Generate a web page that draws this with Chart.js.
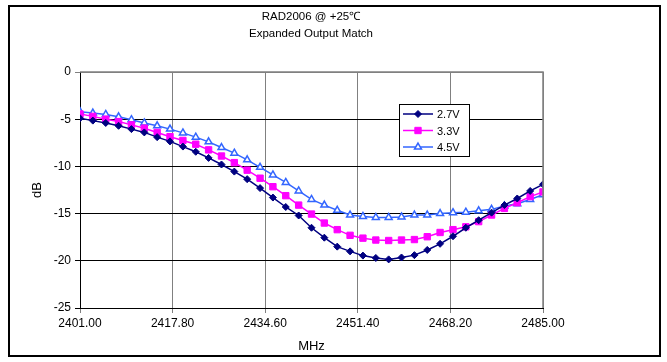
<!DOCTYPE html>
<html>
<head>
<meta charset="utf-8">
<script src="https://cdn.jsdelivr.net/npm/chart.js@4/dist/chart.umd.min.js"></script>
<style>
	html, body { margin: 0; padding: 0; background: #fff; }
	#wrap { width: 667px; height: 362px; }
</style>
</head>
<body>
<div id="wrap"><canvas id="match"></canvas></div>
<script>
// Data

let freqs = [
	2401.00, 2403.33, 2405.67, 2408.00, 2410.33, 2412.67, 2415.00, 2417.33, 2419.67, 2422.00,
	2424.33, 2426.67, 2429.00, 2431.33, 2433.67, 2436.00, 2438.33, 2440.67, 2443.00, 2445.33,
	2447.67, 2450.00, 2452.33, 2454.67, 2457.00, 2459.33, 2461.67, 2464.00, 2466.33, 2468.67,
	2471.00, 2473.33, 2475.67, 2478.00, 2480.33, 2482.67, 2485.00
];

let label27 = "2.7V";
let data27 = [
	-4.9, -5.15, -5.4, -5.7, -6.05, -6.4, -6.9, -7.35, -7.9, -8.45,
	-9.1, -9.8, -10.55, -11.35, -12.3, -13.3, -14.3, -15.2, -16.5, -17.55,
	-18.5, -19.0, -19.45, -19.7, -19.85, -19.65, -19.4, -18.85, -18.2, -17.4,
	-16.5, -15.7, -14.9, -14.1, -13.4, -12.6, -11.9
];

let label33 = "3.3V";
let data33 = [
	-4.45, -4.7, -5.0, -5.25, -5.6, -5.95, -6.4, -6.85, -7.25, -7.65,
	-8.25, -8.9, -9.6, -10.4, -11.25, -12.15, -13.1, -14.1, -15.05, -16.0,
	-16.7, -17.3, -17.6, -17.8, -17.85, -17.8, -17.75, -17.45, -17.0, -16.7,
	-16.4, -15.85, -15.15, -14.45, -13.85, -13.2, -12.7
];

let label45 = "4.5V";
let data45 = [
	-4.2, -4.35, -4.5, -4.75, -5.05, -5.4, -5.7, -6.05, -6.45, -6.9,
	-7.4, -8.0, -8.6, -9.3, -10.1, -10.9, -11.7, -12.6, -13.5, -14.1,
	-14.65, -15.15, -15.3, -15.4, -15.4, -15.35, -15.15, -15.15, -15.0, -14.9,
	-14.85, -14.7, -14.55, -14.2, -13.95, -13.5, -13.0
];

let xTicks = [2401.00, 2417.80, 2434.60, 2451.40, 2468.20, 2485.00];
let yTicks = [0, -5, -10, -15, -20, -25];

let titleLines = ["RAD2006 @ +25\u2103", "Expanded Output Match"];

const font = "'Liberation Sans', Arial, sans-serif";

function toPoints(values) {
	return values.map((v, i) => ({ x: freqs[i], y: v }));
}

// border, title and legend box drawn by hand (Excel style)
const excelDecor = {
	id: "excelDecor",
	beforeDraw(chart) {
		const ctx = chart.ctx;
		ctx.save();
		ctx.fillStyle = "#fff";
		ctx.fillRect(0, 0, chart.width, chart.height);
		ctx.restore();
	},
	afterDraw(chart) {
		const ctx = chart.ctx;
		const area = chart.chartArea;
		ctx.save();

		// outer frame
		ctx.strokeStyle = "#000";
		ctx.lineWidth = 2;
		ctx.strokeRect(9, 6, 651, 350);

		// title
		ctx.fillStyle = "#000";
		ctx.font = "11.5px " + font;
		ctx.textAlign = "center";
		ctx.textBaseline = "middle";
		ctx.fillText(titleLines[0], 311, 17);
		ctx.fillText(titleLines[1], 311, 34);

		// legend
		const lx = 399.5, ly = 104.5, lw = 70, lh = 52;
		ctx.fillStyle = "#fff";
		ctx.fillRect(lx, ly, lw, lh);
		ctx.strokeStyle = "#000";
		ctx.lineWidth = 1;
		ctx.strokeRect(lx, ly, lw, lh);

		ctx.font = "11px " + font;
		ctx.textAlign = "left";
		chart.data.datasets.forEach((ds, i) => {
			const y = 114 + i * 16.5;
			ctx.strokeStyle = ds.borderColor;
			ctx.lineWidth = ds.borderWidth;
			ctx.beginPath();
			ctx.moveTo(403, y);
			ctx.lineTo(433, y);
			ctx.stroke();
			ctx.fillStyle = ds.pointBackgroundColor;
			ctx.strokeStyle = ds.borderColor;
			ctx.lineWidth = ds.pointBorderWidth;
			Chart.helpers.drawPoint(ctx, {
				pointStyle: ds.pointStyle,
				radius: ds.pointRadius,
				rotation: 0,
				borderWidth: ds.pointBorderWidth
			}, 418, y);
			ctx.fillStyle = "#000";
			ctx.fillText(ds.label, 437, y + 1);
		});

		// plot area edges (top and right in grey)
		ctx.strokeStyle = "#808080";
		ctx.lineWidth = 1.5;
		ctx.beginPath();
		ctx.moveTo(area.left, area.top);
		ctx.lineTo(area.right, area.top);
		ctx.lineTo(area.right, area.bottom);
		ctx.stroke();

		ctx.restore();
	}
};

let matchChart = new Chart(document.getElementById("match").getContext("2d"), {
	type: "line",
	data: {
		datasets: [
			{
				label: label27,
				data: toPoints(data27),
				borderColor: "#000080",
				backgroundColor: "#000080",
				pointBackgroundColor: "#000080",
				borderWidth: 1.5,
				pointStyle: "rectRot",
				pointRadius: 3.5,
				pointBorderWidth: 1,
				fill: false
			},
			{
				label: label33,
				data: toPoints(data33),
				borderColor: "#ff00ff",
				backgroundColor: "#ff00ff",
				pointBackgroundColor: "#ff00ff",
				borderWidth: 1.5,
				pointStyle: "rect",
				pointRadius: 4.5,
				pointBorderWidth: 1,
				fill: false
			},
			{
				label: label45,
				data: toPoints(data45),
				borderColor: "#3366ff",
				backgroundColor: "#ffffff",
				pointBackgroundColor: "#ffffff",
				borderWidth: 1.5,
				pointStyle: "triangle",
				pointRadius: 4,
				pointBorderWidth: 1.5,
				fill: false
			}
		]
	},
	options: {
		responsive: true,
		maintainAspectRatio: false,
		animation: false,
		layout: {
			padding: { top: 72, right: 124, left: 0, bottom: 8 }
		},
		plugins: {
			legend: { display: false },
			title: { display: false },
			tooltip: { enabled: false }
		},
		scales: {
			x: {
				type: "linear",
				min: 2401,
				max: 2485,
				afterBuildTicks: scale => {
					scale.ticks = xTicks.map(v => ({ value: v }));
				},
				afterFit: scale => {
					scale.height = 46;
				},
				ticks: {
					color: "#000",
					font: { family: font, size: 12 },
					maxRotation: 0,
					padding: 3,
					callback: v => v.toFixed(2)
				},
				grid: {
					color: "#808080",
					lineWidth: 1,
					tickLength: 5
				},
				border: { color: "#000", width: 1 },
				title: {
					display: true,
					text: "MHz",
					color: "#000",
					font: { family: font, size: 13 },
					padding: { top: 4, bottom: 0 }
				}
			},
			y: {
				min: -25,
				max: 0,
				afterBuildTicks: scale => {
					scale.ticks = yTicks.map(v => ({ value: v }));
				},
				afterFit: scale => {
					scale.width = 80;
				},
				ticks: {
					color: "#000",
					font: { family: font, size: 12 },
					padding: 4
				},
				grid: {
					color: ctx => (ctx.tick && ctx.tick.value === 0 ? "#808080" : "#000"),
					lineWidth: 1,
					tickLength: 5
				},
				border: { color: "#000", width: 1 },
				title: {
					display: true,
					text: "dB",
					color: "#000",
					font: { family: font, size: 13 },
					padding: { top: 30, bottom: 0 }
				}
			}
		}
	},
	plugins: [excelDecor]
});
</script>
</body>
</html>
